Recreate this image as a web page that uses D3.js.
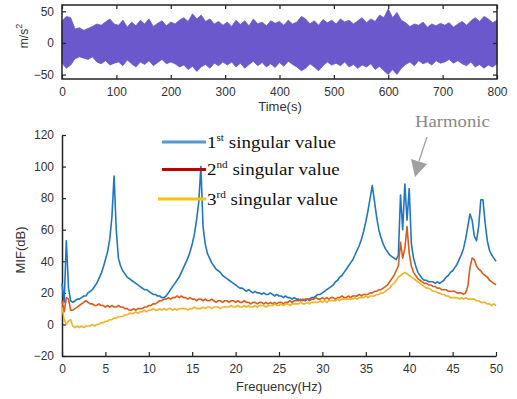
<!DOCTYPE html>
<html>
<head>
<meta charset="utf-8">
<script src="https://cdn.jsdelivr.net/npm/d3@7/dist/d3.min.js"></script>
<style>
  body { margin: 0; background: #fff; }
  text { font-family: "Liberation Sans", Arial, sans-serif; }
</style>
</head>
<body>
<svg id="chart" width="517" height="399"></svg>
<script>
// acceleration envelope, one value every 8 s (0..800 s)
const timeStep = 8
const accUpper = [35,42,40,22,24,20,23,26,30,28,33,38,30,
  28,36,25,33,27,36,30,38,26,31,35,27,33,
  30,36,40,34,46,38,44,34,38,30,34,28,
  33,26,36,29,35,27,38,30,33,27,35,31,
  34,28,36,30,33,42,38,30,35,28,37,32,36,
  30,38,33,36,30,35,40,32,38,34,44,40,54,
  40,48,36,32,26,30,28,33,25,30,27,31,
  28,32,25,30,34,28,35,40,34,42,38,32,36]
const accLower = [-32,-40,-35,-25,-22,-24,-26,-22,-30,-33,-28,-35,-32,
  -30,-36,-27,-33,-38,-30,-34,-28,-36,-31,-26,-33,-30,
  -33,-38,-35,-42,-37,-45,-38,-34,-40,-32,-36,-30,
  -35,-30,-38,-32,-40,-34,-29,-36,-31,-38,-33,-39,
  -31,-37,-29,-34,-38,-44,-40,-33,-38,-44,-36,-30,-35,
  -32,-36,-30,-38,-34,-40,-35,-38,-33,-42,-37,-44,-50,
  -42,-50,-40,-34,-30,-36,-28,-33,-30,-35,-28,-32,
  -30,-26,-32,-28,-33,-36,-30,-38,-34,-40,-35,-38,-33]

const timeTicks = [0, 100, 200, 300, 400, 500, 600, 700, 800]
const accTicks = [-50, 0, 50]

// MIF curves, one value every 0.25 Hz (0..50 Hz)
const freqStep = 0.25
const mif1 = [26,14,53,23, 15,14,15,16, 16,17,18,18, 20,21,22,24, 26,29,32,36,
  41,46,54,68, 94,60,42,37, 34,32,30,29, 28,27,26,25, 24,23,22,22,
  21,20,19,19, 18,18,17,17, 18,20,22,24, 26,28,30,33, 36,39,42,46,
  51,57,66,77, 100,62,51,45, 42,39,37,35, 34,33,31,30, 29,28,27,26,
  25,24,23,23, 22,21,22,21, 20,21,20,20, 19,20,19,19, 20,19,18,19,
  18,18,17,18, 17,17,16,17, 16,16,15,16, 15,16,16,17, 17,18,19,19,
  20,21,22,23, 24,25,27,28, 30,31,33,35, 37,39,41,44, 47,50,54,59,
  65,72,80,88, 78,68,60,55, 51,48,46,44, 43,42,41,44, 82,60,89,66,
  86,51,42,37, 33,31,29,28, 28,27,27,27, 26,27,26,27, 28,30,31,33,
  34,36,38,41, 44,48,54,62, 70,66,56,53, 62,79,79,64, 53,47,44,42, 40]
const mif2 = [15,8,17,16, 9,9,10,11, 12,13,14,15, 14,13,13,12, 12,13,12,12,
  11,12,11,12, 11,11,12,11, 11,10,10,9, 9,10,9,10, 10,10,11,11,
  12,12,13,13, 14,15,15,16, 16,17,16,17, 17,18,17,18, 17,17,16,17,
  16,16,15,16, 16,15,16,15, 15,16,15,14, 15,15,14,15, 15,14,15,15,
  14,15,14,14, 15,14,14,13, 14,14,13,14, 14,13,14,13, 14,13,14,13,
  14,14,13,14, 14,15,14,15, 15,15,16,15, 16,16,15,16, 16,17,16,16,
  17,16,17,16, 17,17,16,17, 17,18,17,17, 18,17,18,18, 18,19,18,19,
  19,19,20,20, 21,21,22,22, 23,24,25,27, 29,31,34,37, 52,42,48,62,
  45,37,33,31, 29,28,27,26, 26,25,25,24, 24,23,23,22, 22,22,21,21,
  21,21,20,20, 20,19,20,24, 36,42,41,37, 35,34,32,31, 30,28,27,26, 25]
const mif3 = [11,3,0,2, 3,-1,-2,-1, -2,-1,-2,-1, -1,-1,0,-1, 0,0,1,1,
  2,2,3,3, 4,4,5,5, 5,6,6,7, 7,7,8,7, 8,8,9,8,
  9,9,10,9, 9,10,9,10, 9,10,10,9, 10,9,10,10, 10,10,9,10,
  10,11,10,10, 10,11,10,11, 11,10,11,11, 11,10,11,11, 11,11,12,11,
  11,12,11,11, 12,11,12,11, 11,12,11,12, 12,12,11,12, 12,12,13,12,
  12,13,12,13, 13,12,13,13, 13,13,14,13, 13,14,13,14, 14,14,14,15,
  14,15,14,15, 15,15,15,16, 15,16,16,16, 16,16,16,17, 16,17,17,17,
  18,17,18,18, 18,19,19,20, 20,21,22,23, 25,26,28,30, 31,32,33,32,
  31,30,29,28, 27,26,25,24, 23,23,22,21, 21,20,20,19, 19,18,18,17,
  17,17,17,16, 17,16,17,16, 16,16,16,15, 15,14,14,14, 13,13,12,13, 12]

const freqTicks = [0, 5, 10, 15, 20, 25, 30, 35, 40, 45, 50]
const mifTicks = [-20, 0, 20, 40, 60, 80, 100, 120]

const legendLabels = [["1", "st"], ["2", "nd"], ["3", "rd"]]
const lineColors = ["#1f77c4", "#dd5a1c", "#efb324"]
const legendColors = ["#4c9ad8", "#c00000", "#ffc000"]

const svg = d3.select("#chart")
const tickColor = "#333"

// ---------- top plot: time signal ----------
const xT = d3.scaleLinear().domain([0, 800]).range([62, 497])
const yT = d3.scaleLinear().domain([-57, 60]).range([79, 5])

const acc = accUpper.map((u, i) => ({t: i * timeStep, hi: u, lo: accLower[i]}))

svg.append("path")
    .datum(acc)
    .attr("fill", "#6a58cc")
    .attr("stroke", "#6a58cc")
    .attr("stroke-width", 0.8)
    .attr("d", d3.area().x(d => xT(d.t)).y0(d => yT(d.lo)).y1(d => yT(d.hi)))

function boxAxes(g, xs, ys, xt, yt){
    g.append("g").attr("transform", "translate(0,79)")
        .call(d3.axisBottom(xs).tickValues(xt).tickSizeInner(-4).tickSizeOuter(0).tickPadding(8))
    g.append("g").attr("transform", "translate(0,5)")
        .call(d3.axisTop(xs).tickValues(xt).tickSizeInner(-4).tickSizeOuter(0).tickFormat(""))
    g.append("g").attr("transform", "translate(62,0)")
        .call(d3.axisLeft(ys).tickValues(yt).tickSizeInner(-4).tickSizeOuter(0).tickPadding(8))
    g.append("g").attr("transform", "translate(497,0)")
        .call(d3.axisRight(ys).tickValues(yt).tickSizeInner(-4).tickSizeOuter(0).tickFormat(""))
    g.selectAll(".domain").remove()
}

const gTop = svg.append("g")
boxAxes(gTop, xT, yT, timeTicks, accTicks)
gTop.append("rect")
    .attr("x", 62).attr("y", 5).attr("width", 435).attr("height", 74)
    .attr("fill", "none").attr("stroke", "#222").attr("stroke-width", 1.5)
gTop.selectAll(".tick line").attr("stroke", "#222").attr("stroke-width", 1.2)
gTop.selectAll(".tick text").attr("font-size", 12).attr("fill", tickColor)

svg.append("text")
    .attr("x", 280).attr("y", 111)
    .attr("text-anchor", "middle").attr("font-size", 13).attr("fill", tickColor)
    .text("Time(s)")

const yLabTop = svg.append("text")
    .attr("transform", "translate(28,36) rotate(-90)")
    .attr("text-anchor", "middle").attr("font-size", 12).attr("fill", tickColor)
yLabTop.append("tspan").text("m/s")
yLabTop.append("tspan").attr("dy", -6).attr("font-size", 9).text("2")

// ---------- bottom plot: MIF ----------
const xF = d3.scaleLinear().domain([0, 50]).range([62, 496])
const yF = d3.scaleLinear().domain([-20, 120]).range([356, 135])

const gBot = svg.append("g")
gBot.append("g").attr("transform", "translate(0,356)")
    .call(d3.axisBottom(xF).tickValues(freqTicks).tickSizeInner(-4).tickSizeOuter(0).tickPadding(8))
gBot.append("g").attr("transform", "translate(62,0)")
    .call(d3.axisLeft(yF).tickValues(mifTicks).tickSizeInner(-4).tickSizeOuter(0).tickPadding(8))
gBot.selectAll(".domain").attr("stroke", "#222").attr("stroke-width", 1.5)
gBot.selectAll(".tick line").attr("stroke", "#222").attr("stroke-width", 1.2)
gBot.selectAll(".tick text").attr("font-size", 12).attr("fill", tickColor)

const line = d3.line()
    .x((d, i) => xF(i * freqStep))
    .y(d => yF(d))

const curves = [mif1, mif2, mif3]
svg.append("g")
    .selectAll("path")
    .data(curves)
    .join("path")
        .attr("fill", "none")
        .attr("stroke", (d, i) => lineColors[i])
        .attr("stroke-width", 1.6)
        .attr("stroke-linejoin", "round")
        .attr("d", line)

svg.append("text")
    .attr("x", 279).attr("y", 391)
    .attr("text-anchor", "middle").attr("font-size", 13).attr("fill", tickColor)
    .text("Frequency(Hz)")

svg.append("text")
    .attr("transform", "translate(25,250) rotate(-90)")
    .attr("text-anchor", "middle").attr("font-size", 13).attr("fill", tickColor)
    .text("MIF(dB)")

// ---------- legend ----------
const legendY = [142, 169.5, 199]
const legend = svg.append("g")
legendLabels.forEach((lab, i) => {
    legend.append("line")
        .attr("x1", i == 2 ? 158 : 162).attr("x2", 206)
        .attr("y1", legendY[i]).attr("y2", legendY[i])
        .attr("stroke", legendColors[i]).attr("stroke-width", 3)
    const t = legend.append("text")
        .attr("transform", `translate(207,${legendY[i] + 5.5}) scale(1.12,1)`)
        .style("font-family", "'Liberation Serif', 'Times New Roman', serif")
        .attr("font-size", 17).attr("fill", "#111")
    t.append("tspan").text(lab[0])
    t.append("tspan").attr("dy", -7).attr("font-size", 10).text(lab[1])
    t.append("tspan").attr("dy", 7).text(" singular value")
})

// ---------- harmonic annotation ----------
svg.append("text")
    .attr("transform", "translate(415,127) scale(1.1,1)")
    .style("font-family", "'Liberation Serif', 'Times New Roman', serif")
    .attr("font-size", 17).attr("fill", "#888")
    .text("Harmonic")
svg.append("line")
    .attr("x1", 427).attr("y1", 137).attr("x2", 419).attr("y2", 161)
    .attr("stroke", "#a0a0a0").attr("stroke-width", 1.3)
svg.append("path")
    .attr("d", "M411,159 L427,164 L415,177 Z")
    .attr("fill", "#a0a0a0")
</script>
</body>
</html>
